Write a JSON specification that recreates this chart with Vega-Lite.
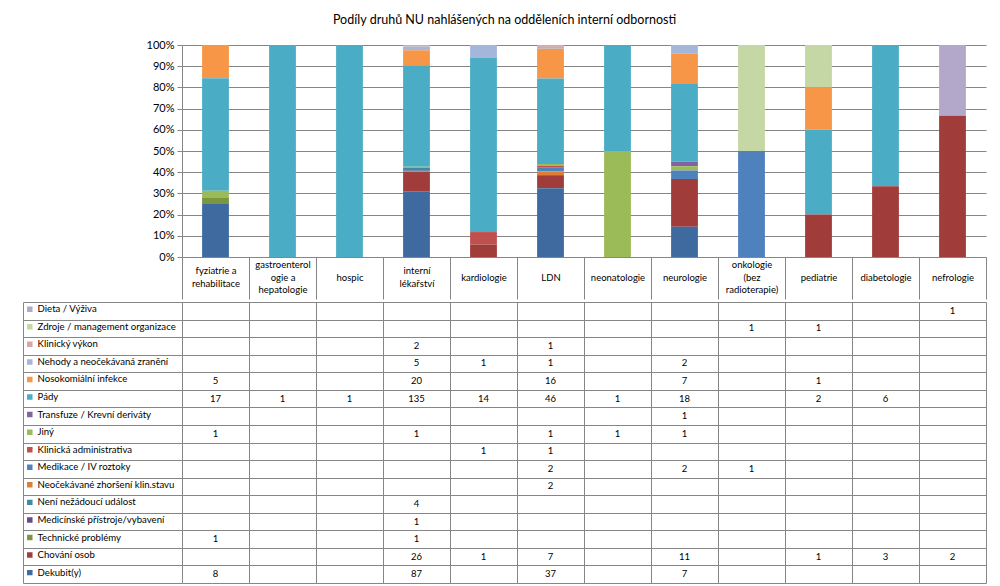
{
  "$schema": "https://vega.github.io/schema/vega-lite/v6.json",
  "background": "white",
  "padding": {"left": 22, "top": 13, "right": 10, "bottom": 5},
  "title": {"text": "Podíly druhů NU nahlášených na odděleních interní odbornosti", "font": "Lato", "fontSize": 12.5, "fontWeight": "normal", "color": "#000000", "anchor": "middle", "offset": 13},
  "config": {
    "view": {"stroke": null},
    "font": "Lato",
    "axis": {"labelFont": "Lato", "labelColor": "#000000", "domainColor": "#868686", "tickColor": "#868686", "gridColor": "#868686", "gridOpacity": 1, "domainWidth": 1, "tickWidth": 1, "gridWidth": 1},
    "legend": {"labelFont": "Lato"}
  },
  "data": {"values": [
    {"dept": "fyziatrie a rehabilitace", "cat": "Nosokomiální infekce", "s": 12, "n": 5},
    {"dept": "fyziatrie a rehabilitace", "cat": "Pády", "s": 11, "n": 17},
    {"dept": "fyziatrie a rehabilitace", "cat": "Jiný", "s": 9, "n": 1},
    {"dept": "fyziatrie a rehabilitace", "cat": "Technické problémy", "s": 3, "n": 1},
    {"dept": "fyziatrie a rehabilitace", "cat": "Dekubit(y)", "s": 1, "n": 8},
    {"dept": "gastroenterologie a hepatologie", "cat": "Pády", "s": 11, "n": 1},
    {"dept": "hospic", "cat": "Pády", "s": 11, "n": 1},
    {"dept": "interní lékařství", "cat": "Klinický výkon", "s": 14, "n": 2},
    {"dept": "interní lékařství", "cat": "Nehody a neočekávaná zranění", "s": 13, "n": 5},
    {"dept": "interní lékařství", "cat": "Nosokomiální infekce", "s": 12, "n": 20},
    {"dept": "interní lékařství", "cat": "Pády", "s": 11, "n": 135},
    {"dept": "interní lékařství", "cat": "Jiný", "s": 9, "n": 1},
    {"dept": "interní lékařství", "cat": "Není nežádoucí událost", "s": 5, "n": 4},
    {"dept": "interní lékařství", "cat": "Medicínské přístroje/vybavení", "s": 4, "n": 1},
    {"dept": "interní lékařství", "cat": "Technické problémy", "s": 3, "n": 1},
    {"dept": "interní lékařství", "cat": "Chování osob", "s": 2, "n": 26},
    {"dept": "interní lékařství", "cat": "Dekubit(y)", "s": 1, "n": 87},
    {"dept": "kardiologie", "cat": "Nehody a neočekávaná zranění", "s": 13, "n": 1},
    {"dept": "kardiologie", "cat": "Pády", "s": 11, "n": 14},
    {"dept": "kardiologie", "cat": "Klinická administrativa", "s": 8, "n": 1},
    {"dept": "kardiologie", "cat": "Chování osob", "s": 2, "n": 1},
    {"dept": "LDN", "cat": "Klinický výkon", "s": 14, "n": 1},
    {"dept": "LDN", "cat": "Nehody a neočekávaná zranění", "s": 13, "n": 1},
    {"dept": "LDN", "cat": "Nosokomiální infekce", "s": 12, "n": 16},
    {"dept": "LDN", "cat": "Pády", "s": 11, "n": 46},
    {"dept": "LDN", "cat": "Jiný", "s": 9, "n": 1},
    {"dept": "LDN", "cat": "Klinická administrativa", "s": 8, "n": 1},
    {"dept": "LDN", "cat": "Medikace / IV roztoky", "s": 7, "n": 2},
    {"dept": "LDN", "cat": "Neočekávané zhoršení klin.stavu", "s": 6, "n": 2},
    {"dept": "LDN", "cat": "Chování osob", "s": 2, "n": 7},
    {"dept": "LDN", "cat": "Dekubit(y)", "s": 1, "n": 37},
    {"dept": "neonatologie", "cat": "Pády", "s": 11, "n": 1},
    {"dept": "neonatologie", "cat": "Jiný", "s": 9, "n": 1},
    {"dept": "neurologie", "cat": "Nehody a neočekávaná zranění", "s": 13, "n": 2},
    {"dept": "neurologie", "cat": "Nosokomiální infekce", "s": 12, "n": 7},
    {"dept": "neurologie", "cat": "Pády", "s": 11, "n": 18},
    {"dept": "neurologie", "cat": "Transfuze / Krevní deriváty", "s": 10, "n": 1},
    {"dept": "neurologie", "cat": "Jiný", "s": 9, "n": 1},
    {"dept": "neurologie", "cat": "Medikace / IV roztoky", "s": 7, "n": 2},
    {"dept": "neurologie", "cat": "Chování osob", "s": 2, "n": 11},
    {"dept": "neurologie", "cat": "Dekubit(y)", "s": 1, "n": 7},
    {"dept": "onkologie (bez radioterapie)", "cat": "Zdroje / management organizace", "s": 15, "n": 1},
    {"dept": "onkologie (bez radioterapie)", "cat": "Medikace / IV roztoky", "s": 7, "n": 1},
    {"dept": "pediatrie", "cat": "Zdroje / management organizace", "s": 15, "n": 1},
    {"dept": "pediatrie", "cat": "Nosokomiální infekce", "s": 12, "n": 1},
    {"dept": "pediatrie", "cat": "Pády", "s": 11, "n": 2},
    {"dept": "pediatrie", "cat": "Chování osob", "s": 2, "n": 1},
    {"dept": "diabetologie", "cat": "Pády", "s": 11, "n": 6},
    {"dept": "diabetologie", "cat": "Chování osob", "s": 2, "n": 3},
    {"dept": "nefrologie", "cat": "Dieta / Výživa", "s": 16, "n": 1},
    {"dept": "nefrologie", "cat": "Chování osob", "s": 2, "n": 2}
  ]},
  "spacing": 0,
  "resolve": {"scale": {"color": "independent"}},
  "vconcat": [
    {
      "width": 804,
      "height": 212,
      "mark": {"type": "bar", "width": {"band": 0.4}},
      "encoding": {
        "x": {"field": "dept", "type": "nominal",
          "sort": ["fyziatrie a rehabilitace", "gastroenterologie a hepatologie", "hospic", "interní lékařství", "kardiologie", "LDN", "neonatologie", "neurologie", "onkologie (bez radioterapie)", "pediatrie", "diabetologie", "nefrologie"],
          "scale": {"domain": ["fyziatrie a rehabilitace", "gastroenterologie a hepatologie", "hospic", "interní lékařství", "kardiologie", "LDN", "neonatologie", "neurologie", "onkologie (bez radioterapie)", "pediatrie", "diabetologie", "nefrologie"], "paddingInner": 0, "paddingOuter": 0},
          "axis": {"title": null, "labelAngle": 0, "grid": false, "tickBand": "extent", "tickSize": 42, "labelBaseline": "middle", "labelFontSize": 9.5, "labelLineHeight": 12.5, "labelOverlap": false, "labelLimit": 200,
            "labelPadding": {"condition": [
              {"test": "datum.value == 'gastroenterologie a hepatologie' || datum.value == 'onkologie (bez radioterapie)'", "value": -34.5},
              {"test": "datum.value == 'fyziatrie a rehabilitace' || datum.value == 'interní lékařství'", "value": -28.5}
            ], "value": -21.5},
            "labelExpr": "datum.label == 'fyziatrie a rehabilitace' ? ['fyziatrie a', 'rehabilitace'] : datum.label == 'gastroenterologie a hepatologie' ? ['gastroenterol', 'ogie a', 'hepatologie'] : datum.label == 'interní lékařství' ? ['interní', 'lékařství'] : datum.label == 'onkologie (bez radioterapie)' ? ['onkologie', '(bez', 'radioterapie)'] : datum.label"}
        },
        "y": {"field": "n", "type": "quantitative", "stack": "normalize",
          "axis": {"title": null, "format": ".0%", "values": [0, 0.1, 0.2, 0.3, 0.4, 0.5, 0.6, 0.7, 0.8, 0.9, 1], "tickSize": 5, "labelFontSize": 11, "labelPadding": 3, "grid": true}
        },
        "order": {"field": "s", "type": "quantitative", "sort": "ascending"},
        "color": {"field": "cat", "type": "nominal",
          "scale": {"domain": ["Dieta / Výživa", "Zdroje / management organizace", "Klinický výkon", "Nehody a neočekávaná zranění", "Nosokomiální infekce", "Pády", "Transfuze / Krevní deriváty", "Jiný", "Klinická administrativa", "Medikace / IV roztoky", "Neočekávané zhoršení klin.stavu", "Není nežádoucí událost", "Medicínské přístroje/vybavení", "Technické problémy", "Chování osob", "Dekubit(y)"],
            "range": ["#B3A8C9", "#C4D7A4", "#D9A6A4", "#A5B6DB", "#F79646", "#4BACC6", "#8064A2", "#9BBB59", "#C0504D", "#4F81BD", "#DC7F34", "#3A8BA3", "#634D85", "#7A9640", "#A03D3B", "#3E6A9F"]},
          "legend": null
        }
      }
    },
    {
      "width": 804,
      "height": 281,
      "layer": [
        {
          "mark": {"type": "square", "opacity": 0},
          "encoding": {
            "x": {"field": "dept", "type": "nominal",
              "scale": {"domain": ["fyziatrie a rehabilitace", "gastroenterologie a hepatologie", "hospic", "interní lékařství", "kardiologie", "LDN", "neonatologie", "neurologie", "onkologie (bez radioterapie)", "pediatrie", "diabetologie", "nefrologie"], "paddingInner": 0, "paddingOuter": 0},
              "axis": {"title": null, "labels": false, "ticks": false, "domain": false, "grid": true, "tickBand": "extent"}
            },
            "y": {"field": "cat", "type": "nominal",
              "scale": {"domain": ["Dieta / Výživa", "Zdroje / management organizace", "Klinický výkon", "Nehody a neočekávaná zranění", "Nosokomiální infekce", "Pády", "Transfuze / Krevní deriváty", "Jiný", "Klinická administrativa", "Medikace / IV roztoky", "Neočekávané zhoršení klin.stavu", "Není nežádoucí událost", "Medicínské přístroje/vybavení", "Technické problémy", "Chování osob", "Dekubit(y)"], "paddingInner": 0, "paddingOuter": 0},
              "axis": {"title": null, "orient": "left", "offset": 159, "labels": false, "ticks": true, "tickSize": -159, "domain": true, "grid": true, "tickBand": "extent"}
            },
            "color": {"field": "cat", "type": "nominal",
              "scale": {"domain": ["Dieta / Výživa", "Zdroje / management organizace", "Klinický výkon", "Nehody a neočekávaná zranění", "Nosokomiální infekce", "Pády", "Transfuze / Krevní deriváty", "Jiný", "Klinická administrativa", "Medikace / IV roztoky", "Neočekávané zhoršení klin.stavu", "Není nežádoucí událost", "Medicínské přístroje/vybavení", "Technické problémy", "Chování osob", "Dekubit(y)"],
                "range": ["#B3A8C9", "#C4D7A4", "#D9A6A4", "#A5B6DB", "#F79646", "#4BACC6", "#8064A2", "#9BBB59", "#C0504D", "#4F81BD", "#DC7F34", "#3A8BA3", "#634D85", "#7A9640", "#A03D3B", "#3E6A9F"]},
              "legend": {"orient": "none", "legendX": -157, "legendY": -1.2, "title": null, "symbolType": "square", "symbolSize": 30, "symbolStrokeWidth": 0, "symbolOpacity": 1, "clipHeight": 16.85, "rowPadding": 0.56, "padding": 0, "labelFontSize": 9.6, "labelColor": "#000000", "labelOffset": 3, "labelLimit": 160}
            }
          }
        },
        {
          "mark": {"type": "text", "fontSize": 9.5, "color": "#000000", "font": "Lato"},
          "encoding": {
            "x": {"field": "dept", "type": "nominal"},
            "y": {"field": "cat", "type": "nominal"},
            "text": {"field": "n", "type": "quantitative"}
          }
        }
      ]
    }
  ]
}
